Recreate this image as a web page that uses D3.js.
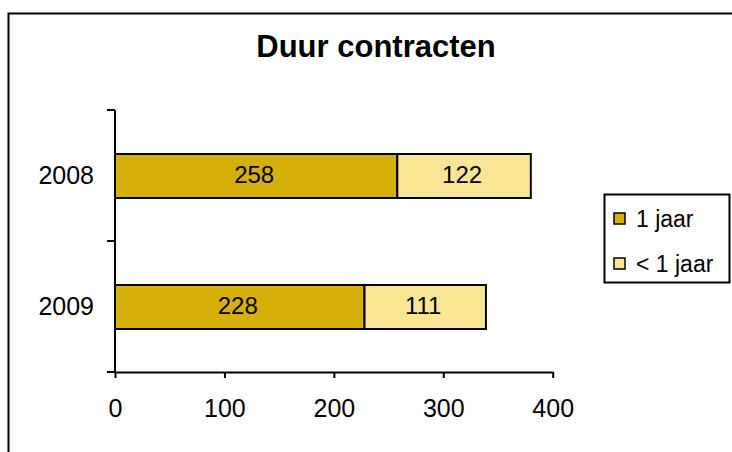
<!DOCTYPE html>
<html>
<head>
<meta charset="utf-8">
<script src="https://cdn.jsdelivr.net/npm/d3@7"></script>
<style>
  html, body { margin: 0; padding: 0; background: #fff; }
  svg { display: block; }
  text { font-family: "Liberation Sans", Arial, sans-serif; fill: #000; }
</style>
</head>
<body>
<svg id="chart" width="732" height="452"></svg>
<script>
const title = "Duur contracten";
const categories = ["2008", "2009"];
const seriesNames = ["1 jaar", "< 1 jaar"];
const seriesColors = ["#D5AF0A", "#FAE594"];
const oneYear = [258, 228];
const lessThanOneYear = [122, 111];
const xTicks = [0, 100, 200, 300, 400];

const rows = categories.map((c, i) => ({ cat: c, "1 jaar": oneYear[i], "< 1 jaar": lessThanOneYear[i] }));
const stacked = d3.stack().keys(seriesNames)(rows);

const svg = d3.select("#chart");

// chart area border (extends beyond view)
svg.append("rect")
  .attr("x", 8.5).attr("y", 13.5)
  .attr("width", 900).attr("height", 600)
  .attr("fill", "#fff").attr("stroke", "#000").attr("stroke-width", 2);

// title
svg.append("text")
  .attr("x", 376).attr("y", 57)
  .attr("text-anchor", "middle")
  .attr("font-size", 31).attr("font-weight", "bold")
  .text(title);

const plot = { left: 115, right: 552.7, top: 110, bottom: 372 };

const x = d3.scaleLinear().domain([0, 400]).range([plot.left, plot.right]);
const y = d3.scaleBand().domain(categories).range([plot.top, plot.bottom]).paddingInner(0).paddingOuter(0);
const barH = 44;

// bars
const series = svg.append("g").selectAll("g")
  .data(stacked).join("g")
  .attr("fill", (d, i) => seriesColors[i]);

series.selectAll("rect")
  .data(d => d.map(v => ({ v, cat: v.data.cat })))
  .join("rect")
  .attr("x", d => x(d.v[0]))
  .attr("width", d => x(d.v[1]) - x(d.v[0]))
  .attr("y", d => y(d.cat) + y.bandwidth() / 2 - barH / 2 + 0.5)
  .attr("height", barH)
  .attr("stroke", "#000").attr("stroke-width", 2);

// bar labels
series.selectAll("text")
  .data(d => d.map(v => ({ v, cat: v.data.cat })))
  .join("text")
  .attr("x", d => (x(d.v[0]) + x(d.v[1])) / 2 - 2)
  .attr("y", d => y(d.cat) + y.bandwidth() / 2 + 0.5)
  .attr("dy", "0.3em")
  .attr("text-anchor", "middle")
  .attr("font-size", 24)
  .style("fill", "#000")
  .text(d => d.v[1] - d.v[0]);

// x axis
const xAxis = svg.append("g")
  .attr("transform", `translate(0,${plot.bottom})`)
  .call(d3.axisBottom(x).tickValues(xTicks).tickSize(6).tickPadding(21).tickSizeOuter(0));
xAxis.select(".domain").attr("stroke-width", 2);
xAxis.selectAll(".tick line").attr("stroke-width", 2);
xAxis.selectAll("text").attr("font-size", 25).attr("font-family", "Liberation Sans, Arial, sans-serif");

// y axis
const yAxis = svg.append("g");
yAxis.append("line")
  .attr("x1", plot.left).attr("x2", plot.left)
  .attr("y1", plot.top).attr("y2", plot.bottom + 1)
  .attr("stroke", "#000").attr("stroke-width", 2);
const yTickPos = categories.map(c => y(c)).concat([plot.bottom]);
yAxis.selectAll("line.tick")
  .data(yTickPos).join("line").attr("class", "tick")
  .attr("x1", plot.left - 8).attr("x2", plot.left)
  .attr("y1", d => d).attr("y2", d => d)
  .attr("stroke", "#000").attr("stroke-width", 2);
yAxis.selectAll("text")
  .data(categories).join("text")
  .attr("x", 94)
  .attr("y", d => y(d) + y.bandwidth() / 2)
  .attr("dy", "0.33em")
  .attr("text-anchor", "end")
  .attr("font-size", 25)
  .text(d => d);

// legend
const legend = svg.append("g");
legend.append("rect")
  .attr("x", 604.5).attr("y", 194.5)
  .attr("width", 125).attr("height", 88)
  .attr("fill", "#fff").attr("stroke", "#000").attr("stroke-width", 2);
const legendY = [219, 264];
const items = legend.selectAll("g.item")
  .data(seriesNames).join("g").attr("class", "item")
  .attr("transform", (d, i) => `translate(0,${legendY[i]})`);
items.append("rect")
  .attr("x", 614).attr("y", -6)
  .attr("width", 11).attr("height", 11)
  .attr("fill", (d, i) => seriesColors[i])
  .attr("stroke", "#000").attr("stroke-width", 1.5);
items.append("text")
  .attr("x", 636).attr("y", 0)
  .attr("dy", "0.36em")
  .attr("font-size", 23)
  .text(d => d);
</script>
</body>
</html>
